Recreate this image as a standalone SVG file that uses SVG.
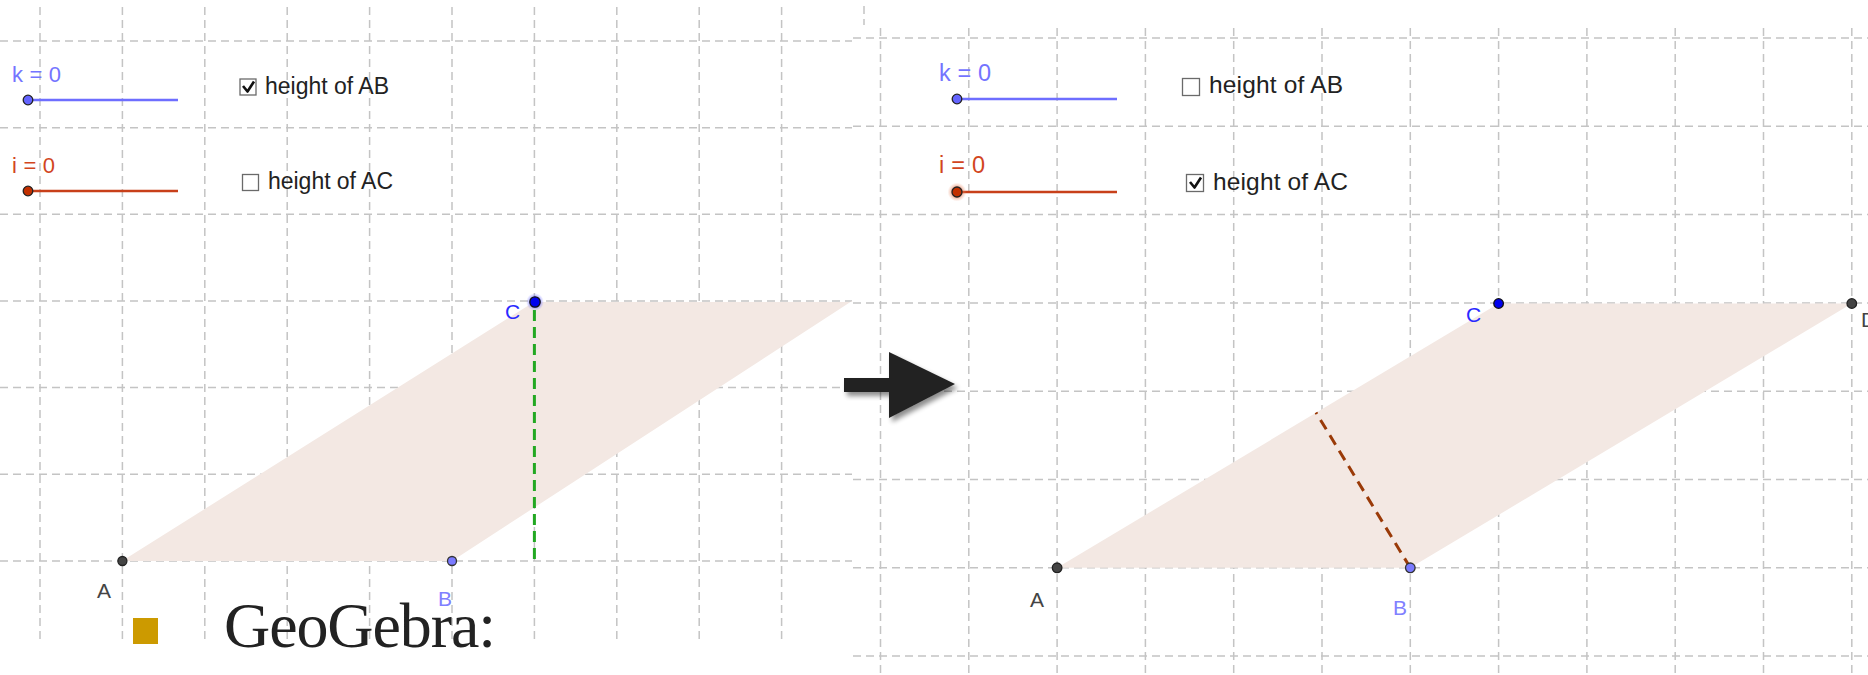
<svg xmlns="http://www.w3.org/2000/svg" width="1868" height="675" viewBox="0 0 1868 675">
  <style>
    .grid { stroke: #c4c4c4; stroke-width: 1.5; stroke-dasharray: 8 5; fill: none; }
    .lbl { font-family: "Liberation Sans", Arial, sans-serif; font-size: 21px; }
    .ui { font-family: "Liberation Sans", Arial, sans-serif; fill: #222; }
    .slk { fill: #7474ff; font-family: "Liberation Sans", Arial, sans-serif; }
    .sli { fill: #d2461e; font-family: "Liberation Sans", Arial, sans-serif; }
    .cb { fill: #ffffff; stroke: #6a6a6a; stroke-width: 1.3; }
    .chk { fill: none; stroke: #111; stroke-width: 2.6; stroke-linejoin: round; }
    .fill { fill: #f3e8e3; }
    .ptA { fill: #444; stroke: #222; stroke-width: 1.3; }
    .ptB { fill: #7a7aff; stroke: #333; stroke-width: 1.3; }
    .ptC { fill: #0000ee; stroke: #111; stroke-width: 1.3; }
  </style>
  <defs>
    <filter id="shadow" x="-20%" y="-20%" width="150%" height="160%">
      <feGaussianBlur in="SourceAlpha" stdDeviation="2.5"/>
      <feOffset dx="3" dy="4" result="b"/>
      <feComponentTransfer><feFuncA type="linear" slope="0.45"/></feComponentTransfer>
      <feMerge><feMergeNode/><feMergeNode in="SourceGraphic"/></feMerge>
    </filter>
    <radialGradient id="haloB">
      <stop offset="0.5" stop-color="#4a4aff" stop-opacity="0.6"/>
      <stop offset="1" stop-color="#8080ff" stop-opacity="0"/>
    </radialGradient>
    <radialGradient id="haloR">
      <stop offset="0.5" stop-color="#e06a40" stop-opacity="0.6"/>
      <stop offset="1" stop-color="#f0a080" stop-opacity="0"/>
    </radialGradient>
  </defs>
  <rect width="1868" height="675" fill="#ffffff"/>

  <!-- LEFT PANEL -->
  <g id="left-panel">
    <g id="left-grid" class="grid">
      <path d="M40,7V642 M122.4,7V642 M204.8,7V642 M287.2,7V642 M369.6,7V642 M452,7V642 M534.4,7V642 M616.8,7V642 M699.2,7V642 M781.6,7V642"/>
      <path d="M0,41H852 M0,127.7H852 M0,214.3H852 M0,301H852 M0,387.6H852 M0,474.3H852 M0,561H852"/>
    </g>
    <polygon id="left-parallelogram" class="fill" points="122,561 452,561 852,301 852,302 534,302"/>
    <g id="left-slider-k">
      <text class="slk" x="12" y="82" font-size="22" textLength="49">k = 0</text>
      <line x1="28" y1="100" x2="178" y2="100" stroke="#6e6eff" stroke-width="2.6"/>
      <circle cx="28" cy="100" r="4.8" fill="#6464ff" stroke="#222" stroke-width="1.3"/>
    </g>
    <g id="left-slider-i">
      <text class="sli" x="12" y="173" font-size="22" textLength="43">i = 0</text>
      <line x1="28" y1="191" x2="178" y2="191" stroke="#c8401a" stroke-width="2.6"/>
      <circle cx="28" cy="191" r="4.8" fill="#c23000" stroke="#222" stroke-width="1.3"/>
    </g>
    <g id="left-check-AB">
      <rect class="cb" x="240" y="79" width="16" height="16"/>
      <path class="chk" d="M243,86 L247.5,91.5 L254,81.5"/>
      <text class="ui" x="265" y="94" font-size="23" textLength="124">height of AB</text>
    </g>
    <g id="left-check-AC">
      <rect class="cb" x="242.5" y="174.5" width="16" height="16"/>
      <text class="ui" x="268" y="189" font-size="23" textLength="125">height of AC</text>
    </g>
    <g id="left-connectors">
      <line x1="534.4" y1="310" x2="534.4" y2="561" stroke="#22a822" stroke-width="3" stroke-dasharray="11 6"/>
    </g>
    <g id="left-A">
      <circle class="ptA" cx="122.4" cy="561" r="4.5"/>
      <text class="lbl" x="97" y="598" fill="#444">A</text>
    </g>
    <g id="left-B">
      <circle class="ptB" cx="452" cy="561" r="4.5"/>
      <text class="lbl" x="438" y="606" fill="#8080ff">B</text>
    </g>
    <g id="left-C">
      <circle cx="535" cy="302" r="9" fill="url(#haloB)"/>
      <circle class="ptC" cx="535" cy="302" r="5.2"/>
      <text class="lbl" x="505" y="319" fill="#2a2aff">C</text>
    </g>
    <g id="bullet">
      <rect x="133" y="618" width="25" height="26" fill="#cc9a00"/>
      <text x="224" y="647" font-family="'Liberation Serif', 'Times New Roman', serif" font-size="64" fill="#222" textLength="272">GeoGebra:</text>
    </g>
  </g>

  <!-- RIGHT PANEL -->
  <g id="right-panel">
    <g id="right-grid" class="grid">
      <path d="M864,6V25"/>
      <path d="M880.5,28V675 M968.8,28V675 M1057.1,28V675 M1145.4,28V675 M1233.7,28V675 M1322,28V675 M1410.3,28V675 M1498.6,28V675 M1586.9,28V675 M1675.2,28V675 M1763.5,28V675 M1851.8,28V675"/>
      <path d="M853,38H1868 M853,126.3H1868 M853,214.6H1868 M853,302.9H1868 M853,391.2H1868 M853,479.5H1868 M853,567.8H1868 M853,656.1H1868"/>
    </g>
    <polygon id="right-parallelogram" class="fill" points="1057.1,567.8 1410.3,567.8 1851.8,303.5 1498.6,303.5"/>
    <g id="right-slider-k">
      <text class="slk" x="939" y="81" font-size="23.5" textLength="52">k = 0</text>
      <line x1="957" y1="99" x2="1117" y2="99" stroke="#6e6eff" stroke-width="2.6"/>
      <circle cx="957" cy="99" r="4.8" fill="#6464ff" stroke="#222" stroke-width="1.3"/>
    </g>
    <g id="right-slider-i">
      <text class="sli" x="939" y="173" font-size="23.5" textLength="46">i = 0</text>
      <line x1="957" y1="192" x2="1117" y2="192" stroke="#c8401a" stroke-width="2.6"/>
      <circle cx="957" cy="192" r="9.5" fill="url(#haloR)"/>
      <circle cx="957" cy="192" r="5" fill="#c23000" stroke="#222" stroke-width="1.3"/>
    </g>
    <g id="right-check-AB">
      <rect class="cb" x="1182.5" y="78.5" width="17" height="17"/>
      <text class="ui" x="1209" y="93" font-size="24.5" textLength="134">height of AB</text>
    </g>
    <g id="right-check-AC">
      <rect class="cb" x="1186.5" y="174.5" width="17" height="17"/>
      <path class="chk" d="M1190,182 L1194.5,187.5 L1201,177.5"/>
      <text class="ui" x="1213" y="190" font-size="24.5" textLength="135">height of AC</text>
    </g>
    <g id="right-connectors">
      <line x1="1410.3" y1="567.8" x2="1316" y2="412.5" stroke="#9a3a08" stroke-width="3" stroke-dasharray="11 7"/>
    </g>
    <g id="right-A">
      <circle class="ptA" cx="1057.1" cy="567.8" r="4.8"/>
      <text class="lbl" x="1030" y="607" fill="#444">A</text>
    </g>
    <g id="right-B">
      <circle class="ptB" cx="1410.3" cy="567.8" r="4.8"/>
      <text class="lbl" x="1393" y="615" fill="#8080ff" font-size="22">B</text>
    </g>
    <g id="right-C">
      <circle class="ptC" cx="1498.6" cy="303.5" r="4.8"/>
      <text class="lbl" x="1466" y="322" fill="#2a2aff">C</text>
    </g>
    <g id="right-D">
      <circle class="ptA" cx="1851.8" cy="303.5" r="4.8"/>
      <text class="lbl" x="1861" y="327" fill="#444">D</text>
    </g>
  </g>

  <!-- ARROW -->
  <g id="arrow" filter="url(#shadow)">
    <polygon points="844,378 889,378 889,352 955,384 889,418 889,392 844,392" fill="#222222"/>
  </g>
</svg>
